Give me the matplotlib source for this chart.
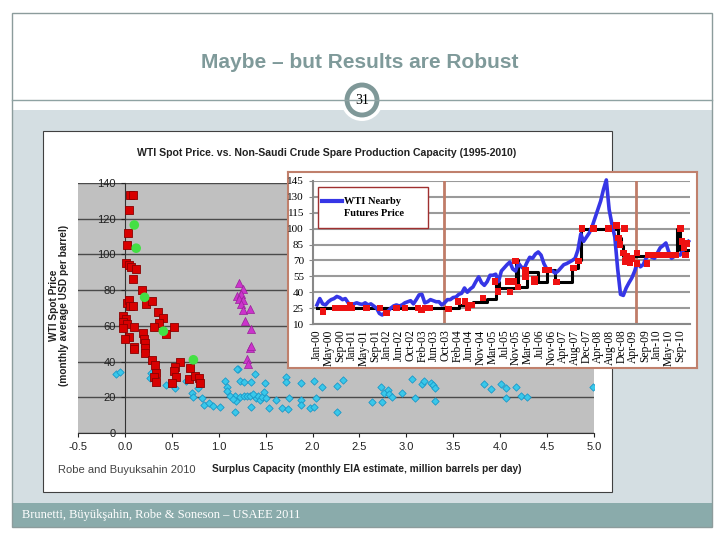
import matplotlib
matplotlib.use("Agg")
import matplotlib.pyplot as plt
import numpy as np
from matplotlib.patches import Rectangle, Circle

# --- main scatter: surplus capacity (mb/d) vs WTI spot price ---
red_x = [0.05, 0.09, 0.04, 0.03, 0.02, 0.01, 0.04, 0.06, 0.12, 0.09, 0.18, 0.22, 0.29, 0.02, 0.04,
         0.05, 0.09, 0.35, -0.02, 0.01, -0.02, 0.02, -0.02, 0.10, 0.41, 0.36, 0.31, 0.52, 0.44, 0.04,
         0.00, 0.19, 0.20, 0.21, 0.21, 0.21, 0.10, 0.10, 0.29, 0.32, 0.33, 0.31, 0.33, 0.59, 0.53,
         0.52, 0.54, 0.50, 0.69, 0.68, 0.75, 0.79, 0.80]
red_y = [133, 133, 125, 112, 105, 95, 94, 93, 92, 86, 80, 72, 74, 73, 74.5,
         71, 71, 68, 65.5, 64, 62, 61, 59, 59.5, 64.5, 61.5, 59.5, 59.5, 55.5, 54,
         52.5, 56, 52.5, 50.5, 47.5, 45, 48, 47, 41, 38, 33.5, 31.5, 28.5, 40, 37,
         35, 31.5, 28, 36.5, 30, 32, 31, 28]

green_x = [0.10, 0.12, 0.21, 0.41, 0.73]
green_y = [116.5, 103.5, 76, 57, 41]

cyan_x = [-0.10, -0.05, 0.28, 0.27, 0.44, 0.53, 0.65, 0.72, 0.73, 0.78, 0.82, 0.84, 0.90, 0.94,
          1.01, 1.07, 1.09, 1.09, 1.17, 1.17, 1.21, 1.23, 1.27, 1.18, 1.23, 1.27, 1.30, 1.33, 1.34,
          1.34, 1.39, 1.40, 1.42, 1.44, 1.46, 1.48, 1.49, 1.50, 1.54, 1.61, 1.67, 1.72, 1.72, 1.74,
          1.75, 1.88, 1.88, 1.88, 1.97, 2.02, 2.02, 2.04, 2.10, 2.26, 2.26, 2.32, 2.63, 2.73, 2.74,
          2.76, 2.80, 2.82, 2.85, 2.95, 3.06, 3.09, 3.17, 3.19, 3.26, 3.28, 3.30, 3.31, 3.83, 3.90,
          4.01, 4.06, 4.06, 4.17, 4.22, 4.29, 4.99, 1.20, 1.12, 1.15, 1.36]
cyan_y = [33, 34, 33.5, 31, 27, 25, 29, 22.5, 20, 25, 19.5, 15.5, 17, 15,
          14.5, 29, 26, 23.5, 20.5, 12, 36, 29, 28.5, 18, 20, 21, 21, 20.5, 28.5,
          14.5, 33, 19.5, 21, 18.5, 20, 23, 28, 19.5, 14, 18.5, 14, 31.5, 28.5, 13.5,
          19.5, 28, 18.5, 15.5, 14, 14.5, 29, 19.5, 26, 26.5, 11.5, 29.5, 17.5, 26, 17.5,
          22.5, 24, 22, 20, 22.5, 30, 19.5, 27.5, 29, 28, 27, 25, 18, 27.5, 24.5,
          27.5, 25, 19.5, 25.5, 20.5, 20, 26, 36, 21, 19, 22]

mag_x = [1.22, 1.26, 1.20, 1.24, 1.22, 1.26, 1.24, 1.26, 1.33, 1.28, 1.34, 1.33, 1.34, 1.30, 1.31]
mag_y = [84, 80.5, 77, 78, 75, 74.5, 72, 69, 69.5, 63, 58, 47.5, 49, 41.5, 38.5]

# --- inset: WTI nearby futures, monthly Jan-2000 .. Dec-2010 ---
wti_futures = [28, 34, 29, 28, 31, 33, 34, 36, 35, 33, 34, 30,
               28, 29, 30, 29, 28.5, 30, 28, 29, 27, 25, 20, 18.5,
               21, 22, 25, 27, 28, 27, 28, 30, 31, 32, 29, 33,
               37.5, 38, 30, 31, 33, 32, 31, 31, 28, 30, 33, 33,
               35, 35.5, 38, 39, 44, 40, 43, 45, 50, 54.5, 49, 46.5,
               50, 56, 56, 57, 50, 60, 63, 66, 68.5, 62, 60, 67.5,
               64, 62, 68, 73, 72, 76, 78, 75, 67, 62, 61, 60,
               58, 60, 63, 66, 67, 68.5, 70, 72, 80, 95, 88, 92,
               96, 102, 110, 118, 126, 137, 146, 118, 104, 92, 62, 38,
               37, 44, 49, 53.5, 60, 68.5, 64, 66, 72, 75, 73, 72,
               77, 82, 84, 86.5, 78, 72, 74, 76, 75, 79, 84, 88]

# black step line: month where each level starts, and the level
step_start = [0, 50, 55, 60, 63, 64, 70, 71, 74, 78, 81, 84, 90, 92, 93, 106, 107, 108, 127, 128, 131]
step_level = [25, 28, 31, 34, 50, 44, 70, 45, 59.5, 50, 61, 50, 63, 70, 100, 91, 84, 74, 100, 80, 80]

red_t = [2.2, 6.3, 8.7, 9.9, 11.6, 12.2, 17.5, 22.2, 24.6, 28.1, 31, 35.7, 36.9, 38.1, 39.8, 46.3,
         49.8, 52.2, 53.3, 54.5, 58.6, 62.8, 63.9, 68, 67.4, 69.2, 70, 70.9, 73.6, 73.6, 76.6, 76.6,
         80.4, 81.6, 84.5, 90.4, 92.2, 93.5, 97.4, 102.7, 105.6, 108.5, 106.3, 106.9, 108, 109.2,
         109.8, 111, 108.7, 110.4, 112.8, 112.8, 116.3, 116.9, 119.3, 121.6, 124, 126.3, 128.1,
         128.7, 129.3, 129.9, 130.5]
red_v = [21.8, 25, 25, 25, 28, 25, 25, 25, 20.2, 25, 25, 25, 23.4, 25, 25, 24,
         31.2, 31.2, 25, 28, 34.4, 50, 40.6, 40, 50, 50, 69.6, 45, 61, 55, 52.5, 50,
         61, 61, 49.5, 62.7, 69.6, 100.4, 100.4, 100.4, 103, 100.4, 91, 85, 76.8, 73.6,
         70, 72, 69, 68, 77, 67, 67, 75, 75, 75, 75, 75, 100,
         88, 82, 75, 86]

inset_labels = ["Jan-00", "May-00", "Sep-00", "Jan-01", "May-01", "Sep-01", "Jan-02", "Jun-02",
                "Oct-02", "Feb-03", "Jun-03", "Oct-03", "Feb-04", "Jun-04", "Nov-04", "Mar-05",
                "Jul-05", "Nov-05", "Mar-06", "Jul-06", "Nov-06", "Apr-07", "Aug-07", "Dec-07",
                "Apr-08", "Aug-08", "Dec-08", "Apr-09", "Sep-09", "Jan-10", "May-10", "Sep-10"]
regime_breaks = [44.8, 112.5]

W, H = 720, 540


def box(x0, y0, x1, y1):
    # pixel rectangle -> figure fraction
    return [x0 / W, 1 - y1 / H, (x1 - x0) / W, (y1 - y0) / H]


plt.rcParams['font.family'] = ['Liberation Sans', 'DejaVu Sans']
fig = plt.figure(figsize=(7.2, 5.4), dpi=100)

# slide background, drawn in pixel coordinates
bg = fig.add_axes([0, 0, 1, 1])
bg.set_xlim(0, W)
bg.set_ylim(H, 0)
bg.axis('off')
bg.add_patch(Rectangle((12, 110), 700, 393, facecolor='#d4dee2', edgecolor='none'))
bg.add_patch(Rectangle((12, 503), 700, 24, facecolor='#8aabab', edgecolor='none'))
bg.add_patch(Rectangle((12, 13), 700, 514, fill=False, edgecolor='#8c9c9c', lw=1))
bg.plot([12, 712], [100, 100], color='#8fa3a3', lw=1)
bg.text(360, 62, "Maybe \u2013 but Results are Robust", ha='center', va='center',
        fontsize=15, fontweight='bold', color='#7f9a9a')
bg.add_patch(Circle((362, 100), 21, facecolor='white', edgecolor='none'))
bg.add_patch(Circle((362, 100), 15, facecolor='white', edgecolor='#7f9898', lw=3.5))
bg.text(362, 101, "31", ha='center', va='center', fontsize=10, family='Liberation Serif')
bg.text(22, 515, "Brunetti, B\u00fcy\u00fck\u015fahin, Robe & Soneson \u2013 USAEE 2011",
        ha='left', va='center', fontsize=9, color='white', family='Liberation Serif')

# chart picture box
bg.add_patch(Rectangle((43, 131), 569, 361, facecolor='white', edgecolor='#404040', lw=0.8))
bg.text(327, 153, "WTI Spot Price. vs. Non-Saudi Crude Spare Production Capacity (1995-2010)",
        ha='center', va='center', fontsize=7.6, fontweight='bold', color='#222222')
bg.text(58, 470, "Robe and Buyuksahin 2010", ha='left', va='center', fontsize=8, color='#444444')
bg.text(212, 469, "Surplus Capacity (monthly EIA estimate, million barrels per day)",
        ha='left', va='center', fontsize=7.3, fontweight='bold', color='#222222')
bg.text(54, 305, "WTI Spot Price", rotation=90, ha='center', va='center',
        fontsize=7.3, fontweight='bold', color='#222222')
bg.text(64, 305, "(monthly average USD per barrel)", rotation=90, ha='center', va='center',
        fontsize=7.3, fontweight='bold', color='#222222')

# main scatter
ax = fig.add_axes(box(78, 183, 594, 433))
ax.set_facecolor('#c0c0c0')
ax.set_xlim(-0.5, 5.0)
ax.set_ylim(0, 140)
ax.spines['left'].set_position(('data', 0))
ax.spines['top'].set_visible(False)
ax.spines['right'].set_visible(False)
ax.spines['left'].set_color('#333333')
ax.spines['bottom'].set_color('#333333')
ax.set_yticks(np.arange(0, 141, 20))
ax.set_xticks(np.arange(-0.5, 5.01, 0.5))
ax.set_xticklabels(["%.1f" % v for v in np.arange(-0.5, 5.01, 0.5)])
ax.tick_params(labelsize=8, colors='#222222', length=3)
ax.yaxis.grid(True, color='#4a4a4a', lw=1)
ax.set_axisbelow(True)
ax.scatter(cyan_x, cyan_y, marker='D', s=14, c='#39c8ea', edgecolors='#1a98c8', lw=0.6, zorder=3)
ax.scatter(red_x, red_y, marker='s', s=28, c='#d80000', edgecolors='#8a0000', lw=0.6, zorder=4)
ax.scatter(mag_x, mag_y, marker='^', s=34, c='#cc33cc', edgecolors='#992299', lw=0.5, zorder=4)
ax.scatter(green_x, green_y, marker='o', s=48, c='#44e044', edgecolors='none', zorder=5)

# inset frame
fr = fig.add_axes(box(288, 172, 697, 368))
fr.set_xticks([])
fr.set_yticks([])
fr.set_facecolor('white')
for s in fr.spines.values():
    s.set_color('#c0806c')
    s.set_linewidth(1.5)

# inset chart
ax2 = fig.add_axes(box(313, 181, 690, 324))
ax2.set_facecolor('none')
ax2.set_xlim(-1.4, 131.5)
ax2.set_ylim(10, 145)
ax2.set_yticks(np.arange(10, 146, 15))
ax2.set_xticks(np.linspace(0, 128, len(inset_labels)))
ax2.set_xticklabels(inset_labels, rotation=90, family='Liberation Serif', fontsize=8.3)
for lab in ax2.get_yticklabels():
    lab.set_family('Liberation Serif')
ax2.tick_params(axis='y', labelsize=8, length=3, color='#888888')
ax2.tick_params(axis='x', length=0, pad=4)
ax2.yaxis.grid(True, color='#9a9a9a', lw=1.5)
ax2.set_axisbelow(True)
ax2.spines['top'].set_visible(False)
ax2.spines['right'].set_visible(False)
ax2.spines['left'].set_color('#888888')
ax2.spines['left'].set_linewidth(1.5)
ax2.spines['bottom'].set_color('#888888')
ax2.spines['bottom'].set_linewidth(1.5)
for m in regime_breaks:
    ax2.axvline(m, color='#c07c68', lw=2, zorder=2)
months = np.arange(len(wti_futures))
ax2.step(step_start, step_level, where='post', color='black', lw=2.2, zorder=3)
ax2.plot(months, wti_futures, color='#3636e6', lw=2.6, zorder=4, clip_on=False)
ax2.scatter(red_t, red_v, marker='s', s=22, c='#ee1111', edgecolors='none', zorder=5)

# legend box drawn in pixel coordinates
pix = bg.transData
ax2.add_patch(Rectangle((318, 187), 110, 41, facecolor='white', edgecolor='#a03030', lw=1,
                        transform=pix, clip_on=False, zorder=6))
ax2.plot([322, 342], [201, 201], color='#3636e6', lw=3, transform=pix, clip_on=False, zorder=7)
ax2.text(344, 201, "WTI Nearby", transform=pix, ha='left', va='center', fontsize=7.5,
         fontweight='bold', family='Liberation Serif', zorder=7)
ax2.text(344, 213, "Futures Price", transform=pix, ha='left', va='center', fontsize=7.5,
         fontweight='bold', family='Liberation Serif', zorder=7)

fig.savefig("out.png", dpi=100)
